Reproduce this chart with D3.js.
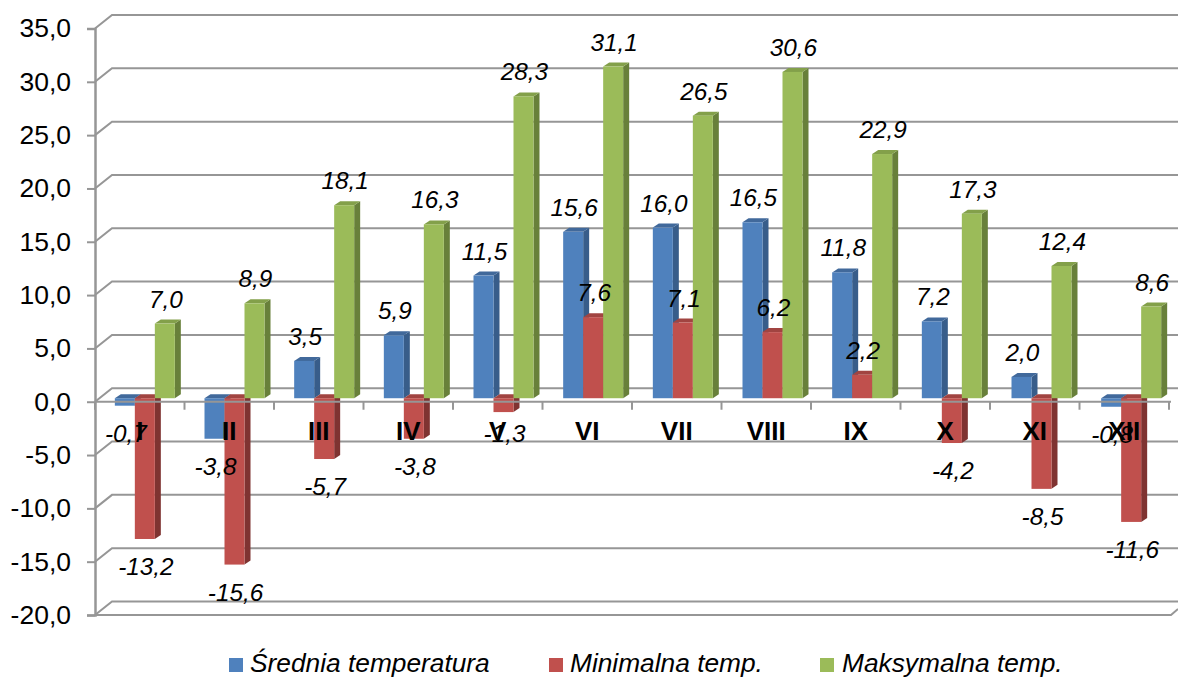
<!DOCTYPE html>
<html>
<head>
<meta charset="utf-8">
<script src="https://cdn.jsdelivr.net/npm/d3@7/dist/d3.min.js"></script>
<style>
body { margin: 0; background: #fff; }
text { font-family: "Liberation Sans", Arial, sans-serif; fill: #000; }
</style>
</head>
<body>
<svg id="chart" width="1178" height="677"></svg>
<script>
var months = ["I", "II", "III", "IV", "V", "VI", "VII", "VIII", "IX", "X", "XI", "XII"];
var srednia = [-0.7, -3.8, 3.5, 5.9, 11.5, 15.6, 16.0, 16.5, 11.8, 7.2, 2.0, -0.8];
var minimalna = [-13.2, -15.6, -5.7, -3.8, -1.3, 7.6, 7.1, 6.2, 2.2, -4.2, -8.5, -11.6];
var maksymalna = [7.0, 8.9, 18.1, 16.3, 28.3, 31.1, 26.5, 30.6, 22.9, 17.3, 12.4, 8.6];
var seriesNames = ["Średnia temperatura", "Minimalna temp.", "Maksymalna temp."];
var yTicks = [35, 30, 25, 20, 15, 10, 5, 0, -5, -10, -15, -20];

var seriesValues = [srednia, minimalna, maksymalna];
var faceColors = ["#4f81bd", "#c0504d", "#9bbb59"];
var sideColors = ["#385d8a", "#7f3331", "#68803a"];
var topColors = ["#41699b", "#a14441", "#83a04a"];
var gridColor = "#969696";

var svg = d3.select("#chart");
var comma = function (v) { return d3.format(".1f")(v).replace(".", ",").replace("−", "-"); };

// front plane of the pseudo 3d box
var x = d3.scaleBand().domain(months).range([95, 1169]);
var xBars = d3.scaleBand().domain(months).range([95, 1171]);
var y = d3.scaleLinear().domain([-20, 35]).range([615, 28.5]);
var wallDx = 17, wallDy = -13.5;
var barDx = 5, barDy = -3.5;
var depthX = 6, depthY = -4;
var x1 = d3.scaleBand().domain([0, 1, 2]).range([0, 60]);
var groupPad = (xBars.bandwidth() - 60) / 2 + barDx;

// walls
var grid = svg.append("g").attr("fill", "none").attr("stroke", gridColor).attr("stroke-width", 2);
yTicks.forEach(function (t) {
    grid.append("path")
        .attr("d", "M" + x.range()[0] + "," + y(t) + "L" + (x.range()[0] + wallDx) + "," + (y(t) + wallDy) + "L1178," + (y(t) + wallDy));
});
// floor front edge
grid.append("path")
    .attr("d", "M95," + y(-20) + "L1171," + y(-20) + "L1178," + (y(-20) - 6));

// y axis
var yAxis = d3.axisLeft(y).tickValues(yTicks).tickSize(8).tickPadding(16).tickFormat(comma);
var yG = svg.append("g").attr("transform", "translate(95,0)").call(yAxis);
yG.select(".domain").attr("stroke", gridColor).attr("stroke-width", 2.5);
yG.selectAll(".tick line").attr("stroke", gridColor).attr("stroke-width", 2);
yG.selectAll("text").style("font-size", "26.5px").style("fill", "#000");

// bars
months.forEach(function (m, i) {
    var g = svg.append("g").attr("class", "month");
    seriesValues.forEach(function (vals, s) {
        var v = vals[i];
        var bx = xBars(m) + groupPad + x1(s);
        var bw = x1.bandwidth();
        var y0 = y(0) + barDy;
        var yv = y(v) + barDy;
        var top = Math.min(y0, yv), bottom = Math.max(y0, yv);
        g.append("polygon").attr("fill", sideColors[s])
            .attr("points", [[bx + bw, top], [bx + bw + depthX, top + depthY], [bx + bw + depthX, bottom + depthY], [bx + bw, bottom]].join(" "));
        g.append("polygon").attr("fill", topColors[s])
            .attr("points", [[bx, top], [bx + depthX, top + depthY], [bx + bw + depthX, top + depthY], [bx + bw, top]].join(" "));
        g.append("rect").attr("fill", faceColors[s])
            .attr("x", bx).attr("y", top).attr("width", bw).attr("height", bottom - top);
    });
});

// x axis on the zero level
var xAxis = d3.axisBottom(x).tickSize(0).tickPadding(20);
var xG = svg.append("g").attr("transform", "translate(0," + y(0) + ")").call(xAxis);
xG.select(".domain").remove();
xG.selectAll("text").style("font-size", "26px").style("font-weight", "bold").style("fill", "#000");
var xLine = svg.append("g").attr("fill", "none").attr("stroke", gridColor).attr("stroke-width", 2);
xLine.append("line").attr("x1", 95).attr("x2", 1171).attr("y1", y(0)).attr("y2", y(0));
months.forEach(function (m) {
    xLine.append("line").attr("x1", x(m) + x.bandwidth()).attr("x2", x(m) + x.bandwidth())
        .attr("y1", y(0)).attr("y2", y(0) + 8);
});
xLine.append("line").attr("x1", 95).attr("x2", 95).attr("y1", y(0)).attr("y2", y(0) + 8);

// value labels
seriesValues.forEach(function (vals, s) {
    svg.append("g").selectAll("text").data(vals).enter().append("text")
        .attr("x", function (d, i) { return xBars(months[i]) + groupPad + x1(s) + x1.bandwidth() / 2 + 1; })
        .attr("y", function (d, i) {
            // the -1,3 label sits closer to its short bar in the original
            var nudge = (s === 1 && i === 4) ? -6 : 0;
            return y(d) + barDy + (d < 0 ? 36 : -16) + nudge;
        })
        .attr("text-anchor", "middle")
        .style("font-size", "24.3px")
        .style("font-style", "italic")
        .text(comma);
});

// legend
var legendSquares = [229, 549, 820];
var legendTexts = [250, 570, 842];
var legend = svg.append("g");
seriesNames.forEach(function (n, s) {
    legend.append("rect").attr("x", legendSquares[s]).attr("y", 658).attr("width", 14).attr("height", 14).attr("fill", faceColors[s]);
    legend.append("text").attr("x", legendTexts[s]).attr("y", 672)
        .style("font-size", "26.3px").style("font-style", "italic").text(n);
});
</script>
</body>
</html>
